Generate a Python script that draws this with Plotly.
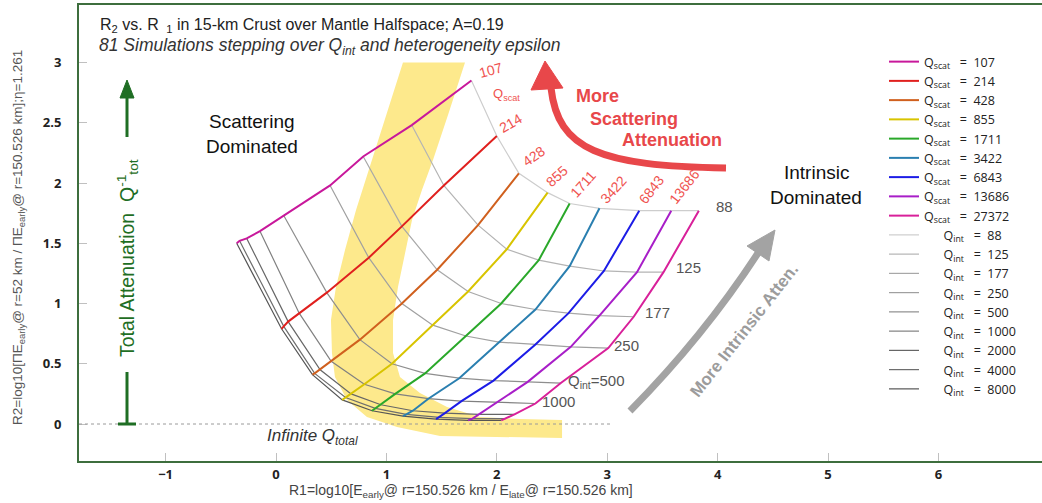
import plotly.graph_objects as go

# ---------------- data ----------------
qscat = [107, 214, 428, 855, 1711, 3422, 6843, 13686, 27372]
qint = [88, 125, 177, 250, 500, 1000, 2000, 4000, 8000]

# R1 (x) for each Qint row, columns follow qscat
r1_q88 = [1.77, 2.00, 2.20, 2.46, 2.66, 2.93, 3.29, 3.58, 3.83]
r1_q125 = [1.23, 1.52, 1.83, 2.09, 2.38, 2.66, 2.97, 3.27, 3.51]
r1_q177 = [0.79, 1.14, 1.46, 1.74, 2.04, 2.35, 2.65, 2.93, 3.24]
r1_q250 = [0.49, 0.84, 1.14, 1.42, 1.72, 2.02, 2.35, 2.67, 3.01]
r1_q500 = [0.07, 0.46, 0.76, 1.05, 1.35, 1.66, 1.97, 2.28, 2.58]
r1_q1000 = [-0.145, 0.21, 0.50, 0.80, 1.08, 1.38, 1.68, 2.00, 2.35]
r1_q2000 = [-0.265, 0.11, 0.40, 0.68, 0.95, 1.24, 1.53, 1.84, 2.16]
r1_q4000 = [-0.33, 0.07, 0.35, 0.63, 0.90, 1.18, 1.48, 1.78, 2.08]
r1_q8000 = [-0.356, 0.05, 0.33, 0.60, 0.87, 1.15, 1.45, 1.74, 2.04]

# R2 (y)
r2_q88 = [2.85, 2.39, 2.08, 1.92, 1.83, 1.79, 1.77, 1.77, 1.77]
r2_q125 = [2.48, 1.98, 1.65, 1.45, 1.36, 1.31, 1.27, 1.26, 1.26]
r2_q177 = [2.22, 1.64, 1.28, 1.10, 1.00, 0.95, 0.92, 0.90, 0.89]
r2_q250 = [1.98, 1.38, 1.00, 0.82, 0.73, 0.68, 0.66, 0.64, 0.63]
r2_q500 = [1.73, 1.09, 0.70, 0.50, 0.42, 0.38, 0.36, 0.35, 0.34]
r2_q1000 = [1.60, 0.92, 0.52, 0.33, 0.25, 0.21, 0.19, 0.18, 0.17]
r2_q2000 = [1.54, 0.85, 0.45, 0.25, 0.16, 0.11, 0.09, 0.08, 0.08]
r2_q4000 = [1.52, 0.81, 0.42, 0.22, 0.13, 0.08, 0.055, 0.045, 0.045]
r2_q8000 = [1.50, 0.79, 0.41, 0.20, 0.11, 0.065, 0.04, 0.03, 0.03]

r1_rows = [r1_q88, r1_q125, r1_q177, r1_q250, r1_q500, r1_q1000, r1_q2000, r1_q4000, r1_q8000]
r2_rows = [r2_q88, r2_q125, r2_q177, r2_q250, r2_q500, r2_q1000, r2_q2000, r2_q4000, r2_q8000]

qscat_colors = ["#c8189b", "#e0201e", "#d0601e", "#d8c400", "#2aa82a",
                "#2a7fb0", "#1c1ce6", "#a81ec8", "#d8209a"]
qint_colors = ["#cdcdcd", "#b4b4b4", "#a8a8a8", "#a0a0a0", "#8e8e8e",
               "#808080", "#666666", "#6e6e6e", "#555555"]

# highlighted yellow band (outline, data units)
band_r1 = [1.150, 1.014, 0.870, 0.725, 0.625, 0.543, 0.498, 0.507, 0.534, 0.643, 0.824, 1.096, 1.486, 2.591,
           2.591, 2.210, 1.848, 1.549, 1.304, 1.123, 1.060, 1.060, 1.105, 1.168, 1.232, 1.322, 1.422, 1.558, 1.712]
band_r2 = [3.000, 2.606, 2.191, 1.776, 1.444, 1.137, 0.863, 0.589, 0.390, 0.199, 0.058, -0.025, -0.100, -0.116,
           0.033, 0.041, 0.058, 0.141, 0.257, 0.390, 0.589, 0.863, 1.137, 1.419, 1.693, 1.942, 2.191, 2.564, 3.000]

x_ticks = [-1, 0, 1, 2, 3, 4, 5, 6]
y_ticks = [0, 0.5, 1, 1.5, 2, 2.5, 3]
y_tick_text = ["0", "0.5", "1", "1.5", "2", "2.5", "3"]

# ---------------- layout geometry ----------------
W, H = 1042, 503
ML, MR, MT, MB = 79, 0, 5, 42
PW, PH = W - ML - MR, H - MT - MB
X0PX, XS = 276.0, 110.4   # pixel of R1=0, pixels per unit
Y0PX, YS = 424.0, 120.5   # pixel of R2=0, pixels per unit


def dx(px):
    return (px - X0PX) / XS


def dy(py):
    return (Y0PX - py) / YS


def pxp(px):
    return (px - ML) / PW


def pyp(py):
    return (H - MB - py) / PH


fig = go.Figure()

fig.add_trace(go.Scatter(x=band_r1, y=band_r2, mode="lines", fill="toself",
                         fillcolor="#fde98c", line=dict(width=0, color="#fde98c"),
                         hoverinfo="skip", showlegend=False))

NB = "\u00a0"
for i, q in enumerate(qint):
    fig.add_trace(go.Scatter(
        x=r1_rows[i], y=r2_rows[i], mode="lines",
        line=dict(color=qint_colors[i], width=1.2),
        name=f"{NB*6}Q<sub>int</sub>{NB*3}={NB*2}{q}",
        legendrank=100 + i))

for j, q in enumerate(qscat):
    fig.add_trace(go.Scatter(
        x=[row[j] for row in r1_rows], y=[row[j] for row in r2_rows], mode="lines",
        line=dict(color=qscat_colors[j], width=2),
        name=f"Q<sub>scat</sub>{NB*3}={NB*2}{q}",
        legendrank=1 + j))

shapes = []
# dotted zero line
shapes.append(dict(type="line", xref="x", yref="y", x0=dx(79), x1=dx(613), y0=0, y1=0,
                   line=dict(color="#9a9a9a", width=1, dash="dot")))

# red curved arrow
red = "#e8474a"
shapes.append(dict(type="path", xref="x", yref="y",
                   path=f"M {dx(726)},{dy(168)} C {dx(600)},{dy(166)} {dx(558)},{dy(150)} {dx(551)},{dy(88)}",
                   line=dict(color=red, width=7)))
shapes.append(dict(type="path", xref="x", yref="y",
                   path=f"M {dx(545)},{dy(61)} L {dx(531)},{dy(90)} L {dx(563)},{dy(88)} Z",
                   fillcolor=red, line=dict(color=red, width=1)))

# gray arrow
gray = "#a3a3a3"
shapes.append(dict(type="path", xref="x", yref="y",
                   path=f"M {dx(630)},{dy(411)} Q {dx(705)},{dy(335)} {dx(760)},{dy(250)}",
                   line=dict(color=gray, width=7)))
shapes.append(dict(type="path", xref="x", yref="y",
                   path=f"M {dx(775)},{dy(230)} L {dx(747)},{dy(246)} L {dx(769)},{dy(261)} Z",
                   fillcolor=gray, line=dict(color=gray, width=1)))

# green total attenuation arrow
green = "#1f6e24"
shapes.append(dict(type="line", xref="x", yref="y", x0=dx(127), x1=dx(127), y0=dy(424), y1=dy(372),
                   line=dict(color=green, width=3)))
shapes.append(dict(type="line", xref="x", yref="y", x0=dx(118), x1=dx(136), y0=dy(424), y1=dy(424),
                   line=dict(color=green, width=3)))
shapes.append(dict(type="line", xref="x", yref="y", x0=dx(127), x1=dx(127), y0=dy(137), y1=dy(95),
                   line=dict(color=green, width=3)))
shapes.append(dict(type="path", xref="x", yref="y",
                   path=f"M {dx(127)},{dy(80)} L {dx(120)},{dy(98)} L {dx(134)},{dy(98)} Z",
                   fillcolor=green, line=dict(color=green, width=1)))

ann = []


def txt(px, py, text, size=14, color="#222", angle=0, family="Liberation Sans", xanchor="center", weight=None,
        italic=False):
    f = dict(size=size, color=color, family=family)
    if weight:
        f["weight"] = weight
    if italic:
        f["style"] = "italic"
    ann.append(dict(x=pxp(px), y=pyp(py), xref="paper", yref="paper", text=text, showarrow=False,
                    font=f, textangle=angle, xanchor=xanchor, yanchor="middle"))


# titles
txt(98, 25, "R<sub>2</sub> vs. R <sub> 1</sub> in 15-km Crust over Mantle Halfspace; A=0.19", size=16,
    color="#222", xanchor="left")
txt(97, 47, "81 Simulations stepping over Q<sub>int</sub> and heterogeneity epsilon", size=17.5, color="#333",
    xanchor="left", italic=True)

# axis titles
txt(461, 491, "R1=log10[E<sub>early</sub>@ r=150.526 km / E<sub>late</sub>@ r=150.526 km]", size=14, color="#444")
txt(18, 238, "R2=log10[ΠE<sub>early</sub>@ r=52 km / ΠE<sub>early</sub>@ r=150.526 km];η=1.261", size=13.5,
    color="#555", angle=-90)

# region text
txt(252, 121, "Scattering", size=19, color="#111")
txt(252, 146, "Dominated", size=19, color="#111")
txt(816, 172, "Intrinsic", size=19, color="#111")
txt(816, 197, "Dominated", size=19, color="#111")
txt(597, 96, "More", size=18, color=red, weight="bold")
txt(634, 119, "Scattering", size=18, color=red, weight="bold")
txt(672, 140, "Attenuation", size=18, color=red, weight="bold")
txt(744, 330, "More Intrinsic Atten.", size=17, color="#9c9c9c", angle=-52, weight="bold")
txt(127, 258, "Total Attenuation  Q<sup>-1</sup><sub>tot</sub>", size=19.5, color=green, angle=-90)
txt(312, 437, "Infinite Q<sub>total</sub>", size=17, color="#333", italic=True)

# Qscat labels (red)
lred = "#ef5350"
txt(491, 70, "107", size=14, color=lred, angle=-15)
txt(506, 95, "Q<sub>scat</sub>", size=13, color=lred)
txt(511, 123, "214", size=14, color=lred, angle=-30)
txt(534, 156, "428", size=14, color=lred, angle=-35)
txt(557, 176, "855", size=14, color=lred, angle=-42)
txt(583, 184, "1711", size=14, color=lred, angle=-48)
txt(613, 190, "3422", size=14, color=lred, angle=-48)
txt(651, 190, "6843", size=14, color=lred, angle=-52)
txt(684, 187, "13686", size=14, color=lred, angle=-52)

# Qint labels (gray)
lg = "#555"
txt(714, 206, "88", size=15, color=lg, xanchor="left")
txt(674, 267, "125", size=15, color=lg, xanchor="left")
txt(643, 312, "177", size=15, color=lg, xanchor="left")
txt(612, 345, "250", size=15, color=lg, xanchor="left")
txt(566, 381, "Q<sub>int</sub>=500", size=15, color=lg, xanchor="left")
txt(540, 401, "1000", size=15, color=lg, xanchor="left")

axis_green = "#3d6e3d"
fig.update_layout(
    width=W, height=H, margin=dict(l=ML, r=MR, t=MT, b=MB),
    paper_bgcolor="white", plot_bgcolor="white",
    shapes=shapes, annotations=ann,
    showlegend=True,
    legend=dict(x=pxp(884), y=pyp(47), xanchor="left", yanchor="top",
                bgcolor="rgba(0,0,0,0)", font=dict(size=12.5, family="Open Sans", color="#222"),
                itemwidth=30, tracegroupgap=0),
    xaxis=dict(range=[dx(ML), dx(W - MR)], tickvals=x_ticks, showgrid=False, zeroline=False,
               showline=True, linecolor=axis_green, linewidth=2, mirror=True,
               ticks="inside", ticklen=8, tickcolor="#c0c0c0", tickwidth=1,
               tickfont=dict(size=13, family="Open Sans", color="#222", weight="bold")),
    yaxis=dict(range=[dy(H - MB), dy(MT)], tickvals=y_ticks, ticktext=y_tick_text, showgrid=False,
               zeroline=False, showline=True, linecolor=axis_green, linewidth=2,
               ticks="inside", ticklen=8, tickcolor="#c0c0c0", tickwidth=1, ticklabelstandoff=13,
               tickfont=dict(size=13, family="Open Sans", color="#222", weight="bold")),
)

fig.write_html("out.html")
